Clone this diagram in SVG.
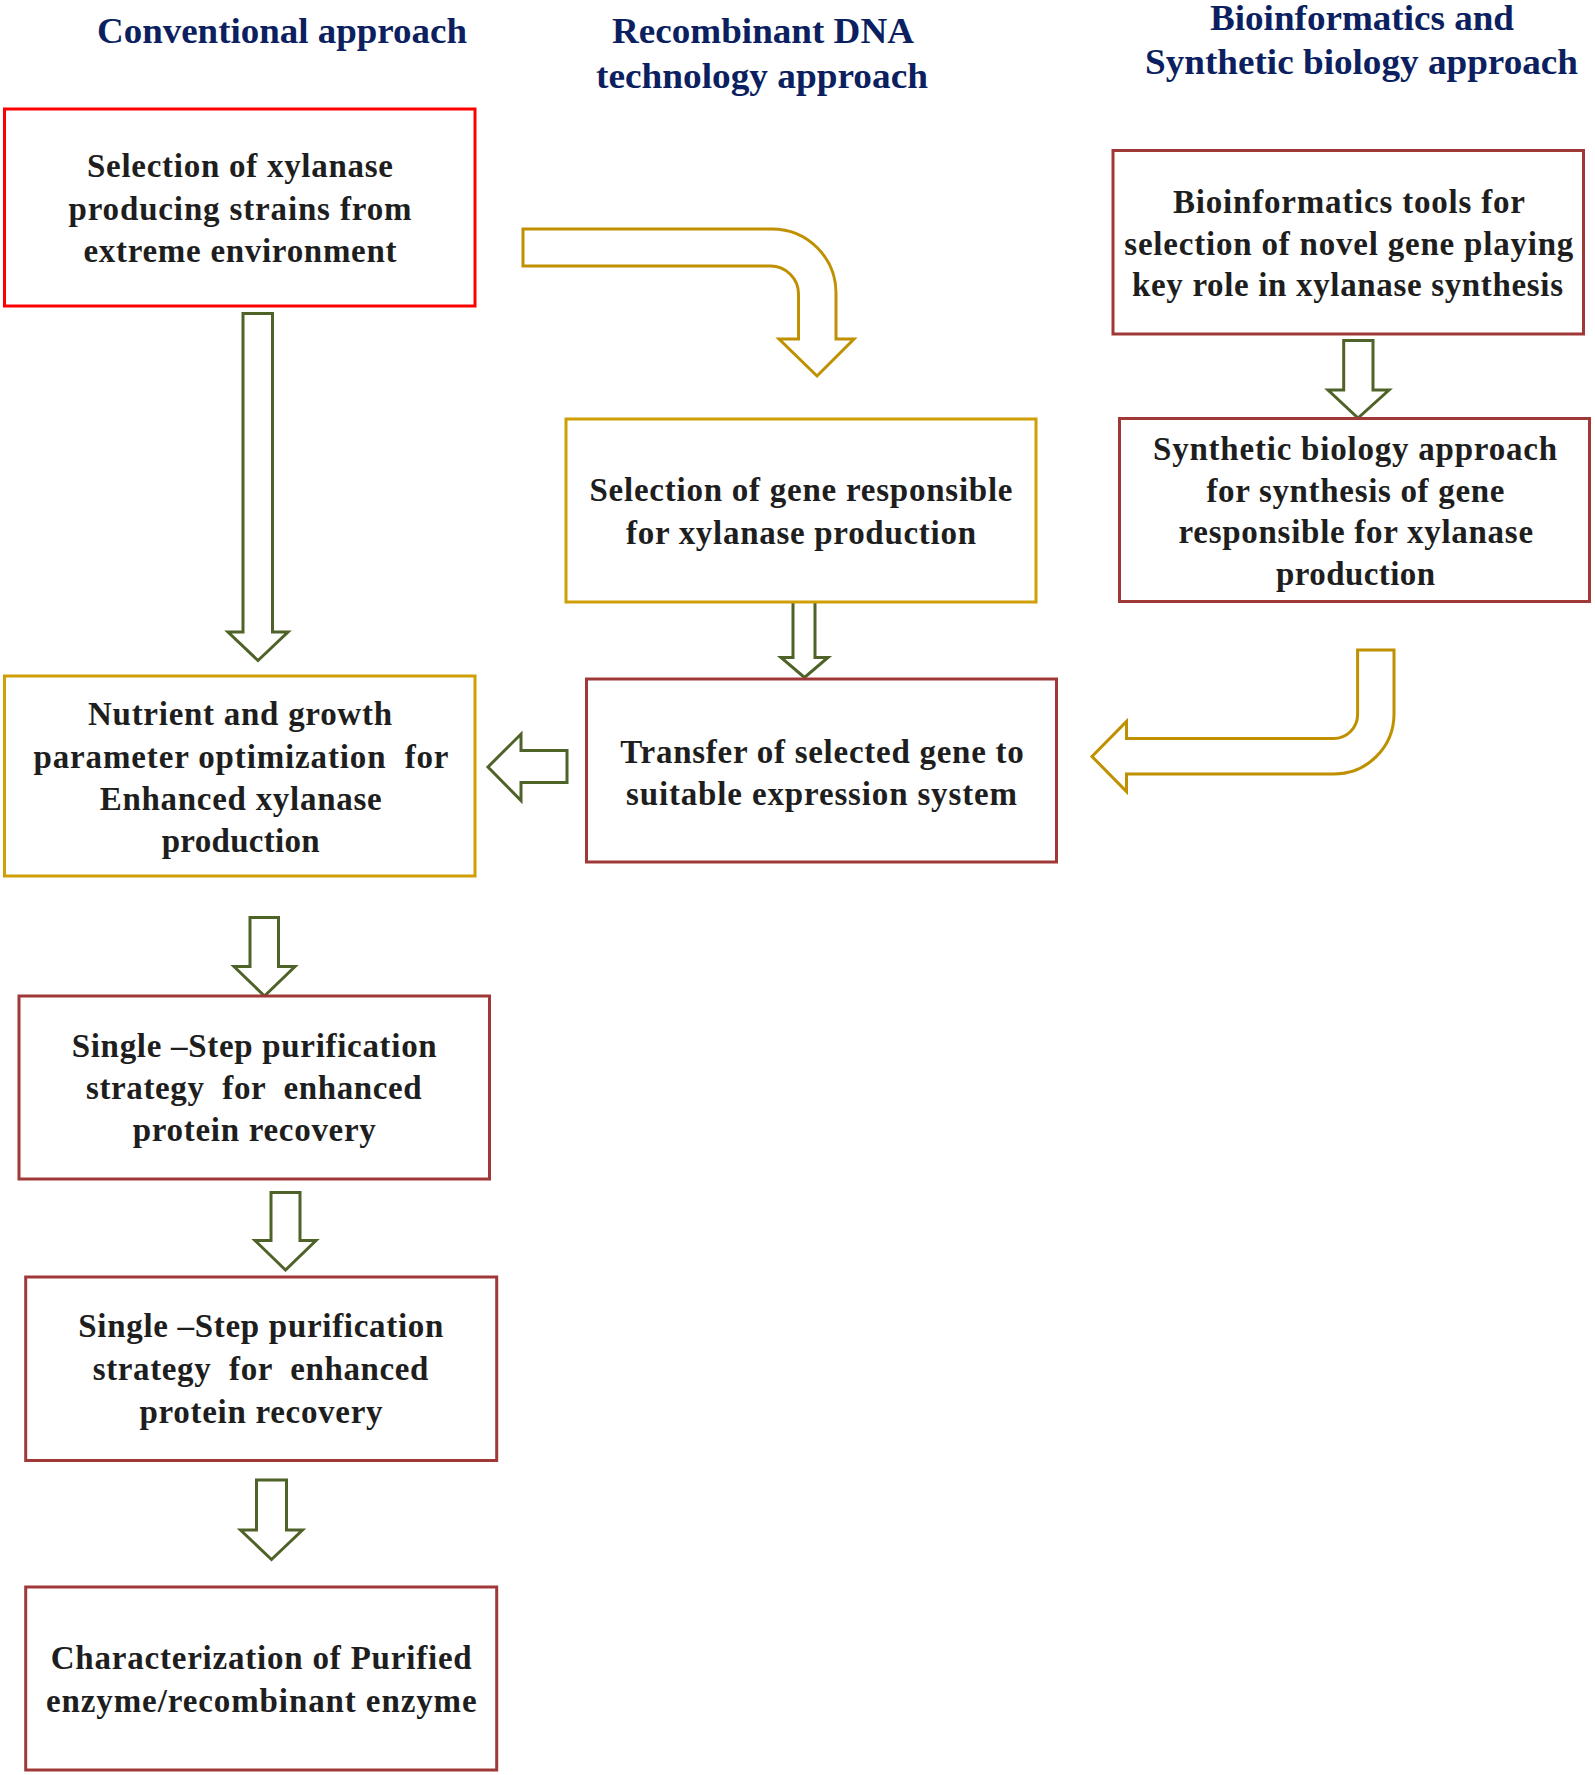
<svg xmlns="http://www.w3.org/2000/svg" width="1595" height="1775" viewBox="0 0 1595 1775">
<style>
text{font-family:"Liberation Serif","Times New Roman",serif;font-weight:bold;text-anchor:middle;white-space:pre}
.hd{font-size:36px;fill:#0c1f60}
.bt{font-size:33px;fill:#1e1e1e}
.box{fill:#ffffff;stroke-width:3}
.red{stroke:#ff0000}
.gold{stroke:#d09f06}
.dred{stroke:#a03838}
.ga{fill:#ffffff;stroke:#4f6228;stroke-width:3;stroke-linejoin:miter}
.ya{fill:#ffffff;stroke:#bf9000;stroke-width:3;stroke-linejoin:miter}
</style>
<rect width="1595" height="1775" fill="#ffffff"/>
<g id="headings">
<text class="hd" x="282" y="43" textLength="370" lengthAdjust="spacingAndGlyphs">Conventional approach</text>
<text class="hd" x="763" y="43" textLength="302" lengthAdjust="spacingAndGlyphs">Recombinant DNA</text>
<text class="hd" x="762" y="88" textLength="332" lengthAdjust="spacingAndGlyphs">technology approach</text>
<text class="hd" x="1362" y="30" textLength="304" lengthAdjust="spacingAndGlyphs">Bioinformatics and</text>
<text class="hd" x="1361.5" y="74" textLength="433" lengthAdjust="spacingAndGlyphs">Synthetic biology approach</text>
</g>
<g id="connectors">
<path class="ga" d="M243,313.5 H272.5 V632 H288 L258,660.5 L228,632 H243 Z"/>
<path class="ga" d="M793,601 H815 V657.5 H828 L804.5,677.5 L781,657.5 H793 Z"/>
<path class="ga" d="M567,750.5 V782.5 H521 V800.5 L488,767 L521,734 V750.5 Z"/>
<path class="ga" d="M1343.7,340.5 H1373 V390 H1389 L1358,418 L1328,390 H1343.7 Z"/>
<path class="ga" d="M250,917.5 H278.5 V966.5 H295 L264.5,996 L234,966.5 H250 Z"/>
<path class="ga" d="M271,1192.5 H300 V1240.5 H316 L285.5,1270 L255,1240.5 H271 Z"/>
<path class="ga" d="M256.5,1480 H286.5 V1530 H302.5 L271.5,1559.5 L240.5,1530 H256.5 Z"/>
<path class="ya" d="M523,229 H772 A64,64 0 0 1 836,293 V339 H854 L817,376 L779,339 H798.5 V294 A28,28 0 0 0 770.5,266 H523 Z"/>
<path class="ya" d="M1357.6,650 H1394 V714 A60,60 0 0 1 1334,774 H1126.5 V791.5 L1092,756.5 L1126.5,721.5 V738.5 H1333.6 A24,24 0 0 0 1357.6,714.5 Z"/>
</g>
<g id="node-selection-strains">
<rect class="box red" x="4.5" y="109" width="470.5" height="197"/>
<text class="bt" x="240" y="177" textLength="306" lengthAdjust="spacing">Selection of xylanase</text>
<text class="bt" x="240" y="220" textLength="343" lengthAdjust="spacing">producing strains from</text>
<text class="bt" x="240" y="262" textLength="313" lengthAdjust="spacing">extreme environment</text>
</g>
<g id="node-selection-gene">
<rect class="box gold" x="566" y="419" width="470" height="183"/>
<text class="bt" x="801" y="501" textLength="423" lengthAdjust="spacing">Selection of gene responsible</text>
<text class="bt" x="801" y="544" textLength="350" lengthAdjust="spacing">for xylanase production</text>
</g>
<g id="node-transfer">
<rect class="box dred" x="586.5" y="679" width="470" height="183"/>
<text class="bt" x="822" y="762.5" textLength="403.5" lengthAdjust="spacing">Transfer of selected gene to</text>
<text class="bt" x="821.5" y="805" textLength="391" lengthAdjust="spacing">suitable expression system</text>
</g>
<g id="node-nutrient">
<rect class="box gold" x="4.5" y="676" width="470.5" height="200"/>
<text class="bt" x="240" y="725" textLength="304" lengthAdjust="spacing">Nutrient and growth</text>
<text class="bt" x="241" y="767.7" textLength="415" lengthAdjust="spacing">parameter optimization  for</text>
<text class="bt" x="240.7" y="809.8" textLength="282" lengthAdjust="spacing">Enhanced xylanase</text>
<text class="bt" x="240.7" y="851.8" textLength="158" lengthAdjust="spacing">production</text>
</g>
<g id="node-bioinformatics">
<rect class="box dred" x="1113" y="150.5" width="470.5" height="183.5"/>
<text class="bt" x="1349" y="213" textLength="352" lengthAdjust="spacing">Bioinformatics tools for</text>
<text class="bt" x="1348.8" y="255" textLength="449" lengthAdjust="spacing">selection of novel gene playing</text>
<text class="bt" x="1347.5" y="296" textLength="431" lengthAdjust="spacing">key role in xylanase synthesis</text>
</g>
<g id="node-synthetic">
<rect class="box dred" x="1119.5" y="418.5" width="470" height="183"/>
<text class="bt" x="1355" y="460" textLength="404" lengthAdjust="spacing">Synthetic biology approach</text>
<text class="bt" x="1355.4" y="501.7" textLength="298" lengthAdjust="spacing">for synthesis of gene</text>
<text class="bt" x="1355.8" y="543.3" textLength="354.5" lengthAdjust="spacing">responsible for xylanase</text>
<text class="bt" x="1355.5" y="585" textLength="159" lengthAdjust="spacing">production</text>
</g>
<g id="node-purification-1">
<rect class="box dred" x="19" y="996" width="470.5" height="183"/>
<text class="bt" x="254.2" y="1056.7" textLength="365" lengthAdjust="spacing">Single –Step purification</text>
<text class="bt" x="253.8" y="1099" textLength="335.7" lengthAdjust="spacing">strategy  for  enhanced</text>
<text class="bt" x="254.3" y="1140.7" textLength="243" lengthAdjust="spacing">protein recovery</text>
</g>
<g id="node-purification-2">
<rect class="box dred" x="25.7" y="1277" width="471" height="183.5"/>
<text class="bt" x="260.8" y="1337" textLength="365" lengthAdjust="spacing">Single –Step purification</text>
<text class="bt" x="260.6" y="1380" textLength="335.7" lengthAdjust="spacing">strategy  for  enhanced</text>
<text class="bt" x="261" y="1423.3" textLength="243" lengthAdjust="spacing">protein recovery</text>
</g>
<g id="node-characterization">
<rect class="box dred" x="25.7" y="1587" width="471" height="183"/>
<text class="bt" x="261.2" y="1669.3" textLength="421" lengthAdjust="spacing">Characterization of Purified</text>
<text class="bt" x="261.3" y="1711.7" textLength="430.7" lengthAdjust="spacing">enzyme/recombinant enzyme</text>
</g>
</svg>
